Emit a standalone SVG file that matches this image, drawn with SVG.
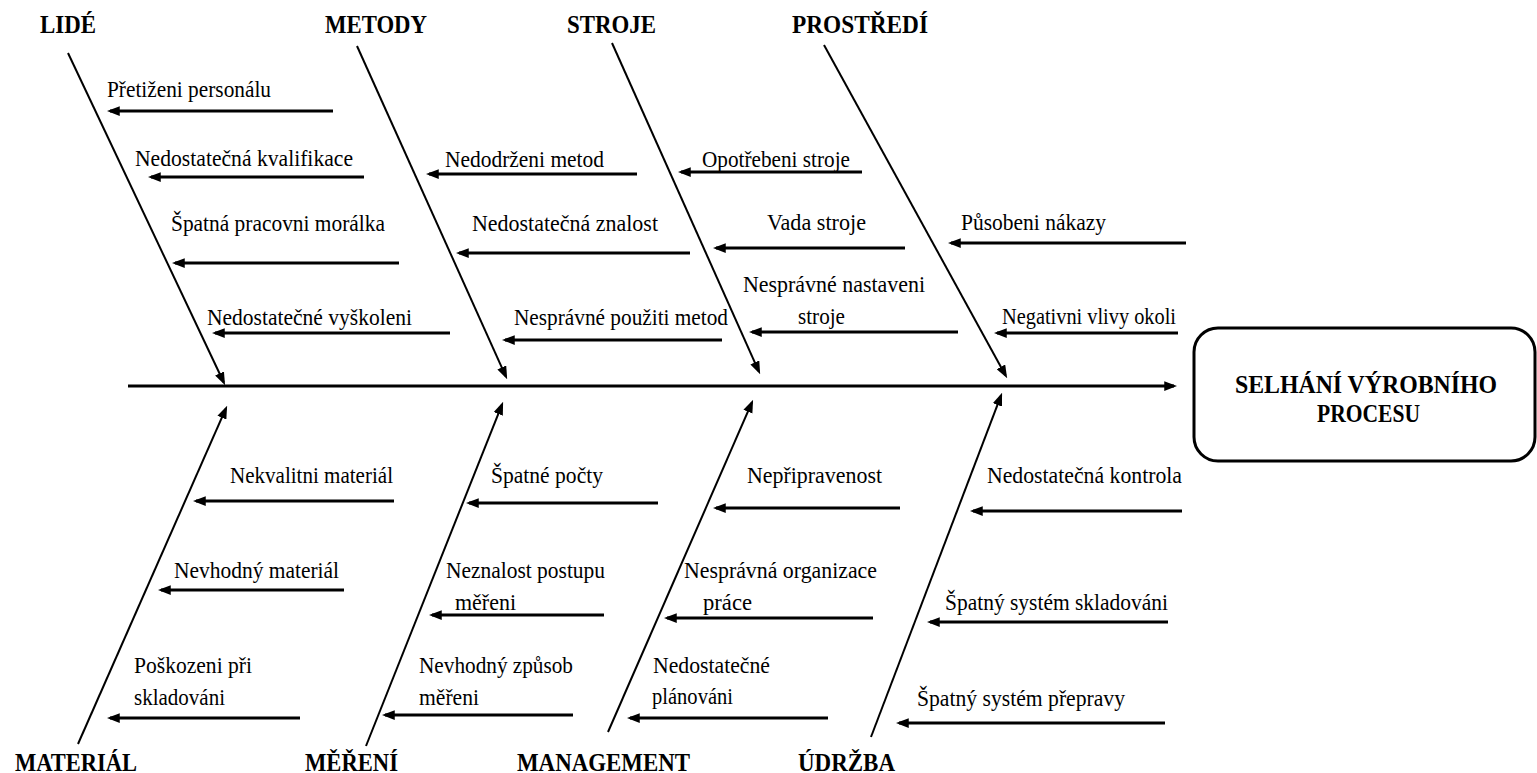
<svg xmlns="http://www.w3.org/2000/svg" width="1537" height="773" viewBox="0 0 1537 773">
<style>
.t{font-family:'Liberation Serif','DejaVu Serif','Times New Roman',serif;font-size:23px;fill:#000}
.h{font-family:'Liberation Serif','DejaVu Serif','Times New Roman',serif;font-size:25px;font-weight:bold;fill:#000}
.c{stroke:#000;stroke-width:2.8;fill:none;marker-end:url(#ah)}
.b{stroke:#000;stroke-width:2;fill:none;marker-end:url(#ah)}
</style>
<defs>
<marker id="ah" markerUnits="userSpaceOnUse" markerWidth="13" markerHeight="10" refX="9" refY="4.5" orient="auto" viewBox="0 0 12 9">
<path d="M0,0 L12,4.5 L0,9 z" fill="#000"/>
</marker>
</defs>
<rect width="1537" height="773" fill="#fff"/>
<g id="connectors">
<line class="c" x1="128" y1="386" x2="1174" y2="386"/>
<line class="b" x1="68" y1="53" x2="223.7" y2="382.3"/>
<line class="b" x1="357" y1="46" x2="505.8" y2="376.3"/>
<line class="b" x1="612" y1="43" x2="758.8" y2="371.3"/>
<line class="b" x1="824" y1="45" x2="1005.6" y2="375.4"/>
<line class="b" x1="78" y1="744" x2="225.8" y2="408.7"/>
<line class="b" x1="366" y1="746" x2="501.9" y2="404.8"/>
<line class="b" x1="608" y1="732" x2="751.8" y2="402.7"/>
<line class="b" x1="871" y1="737" x2="1000.9" y2="395.8"/>
<line class="c" x1="333" y1="111" x2="110" y2="111"/>
<line class="c" x1="364" y1="177" x2="151" y2="177"/>
<line class="c" x1="399" y1="263" x2="175" y2="263"/>
<line class="c" x1="450" y1="333" x2="215" y2="333"/>
<line class="c" x1="637" y1="174" x2="429" y2="174"/>
<line class="c" x1="690" y1="253" x2="459" y2="253"/>
<line class="c" x1="722" y1="340" x2="505" y2="340"/>
<line class="c" x1="862" y1="172" x2="681" y2="172"/>
<line class="c" x1="905" y1="248" x2="716" y2="248"/>
<line class="c" x1="958" y1="332" x2="752" y2="332"/>
<line class="c" x1="1186" y1="243" x2="951" y2="243"/>
<line class="c" x1="1178" y1="333" x2="997" y2="333"/>
<line class="c" x1="394" y1="501" x2="196" y2="501"/>
<line class="c" x1="344" y1="590" x2="161" y2="590"/>
<line class="c" x1="300" y1="718" x2="110" y2="718"/>
<line class="c" x1="658" y1="503" x2="469" y2="503"/>
<line class="c" x1="604" y1="615" x2="432" y2="615"/>
<line class="c" x1="573" y1="715" x2="385" y2="715"/>
<line class="c" x1="900" y1="508" x2="716" y2="508"/>
<line class="c" x1="873" y1="618" x2="667" y2="618"/>
<line class="c" x1="828" y1="718" x2="630" y2="718"/>
<line class="c" x1="1182" y1="511" x2="973" y2="511"/>
<line class="c" x1="1168" y1="622" x2="930" y2="622"/>
<line class="c" x1="1165" y1="723" x2="899" y2="723"/>
</g>
<g id="effect">
<rect x="1194" y="328" width="341" height="133" rx="24" ry="24" fill="none" stroke="#000" stroke-width="3"/>
<text class="h" x="1235" y="393" textLength="262" lengthAdjust="spacingAndGlyphs">SELHÁNÍ VÝROBNÍHO</text>
<text class="h" x="1317" y="422" textLength="103" lengthAdjust="spacingAndGlyphs">PROCESU</text>
</g>
<g id="cat-lide"><text class="h" x="40" y="33" textLength="56" lengthAdjust="spacingAndGlyphs">LIDÉ</text></g>
<g id="cat-metody"><text class="h" x="325" y="33" textLength="102" lengthAdjust="spacingAndGlyphs">METODY</text></g>
<g id="cat-stroje"><text class="h" x="567" y="33" textLength="89" lengthAdjust="spacingAndGlyphs">STROJE</text></g>
<g id="cat-prostredi"><text class="h" x="792" y="33" textLength="136" lengthAdjust="spacingAndGlyphs">PROSTŘEDÍ</text></g>
<g id="cat-material"><text class="h" x="15" y="771" textLength="122" lengthAdjust="spacingAndGlyphs">MATERIÁL</text></g>
<g id="cat-mereni"><text class="h" x="305" y="771" textLength="93" lengthAdjust="spacingAndGlyphs">MĚŘENÍ</text></g>
<g id="cat-management"><text class="h" x="517" y="771" textLength="173" lengthAdjust="spacingAndGlyphs">MANAGEMENT</text></g>
<g id="cat-udrzba"><text class="h" x="798" y="771" textLength="97" lengthAdjust="spacingAndGlyphs">ÚDRŽBA</text></g>
<g id="c1"><text class="t" x="107" y="97" textLength="164" lengthAdjust="spacingAndGlyphs">Přetiženi personálu</text></g>
<g id="c2"><text class="t" x="135" y="166" textLength="218" lengthAdjust="spacingAndGlyphs">Nedostatečná kvalifikace</text></g>
<g id="c3"><text class="t" x="171" y="231" textLength="214" lengthAdjust="spacingAndGlyphs">Špatná pracovni morálka</text></g>
<g id="c4"><text class="t" x="207" y="325" textLength="205" lengthAdjust="spacingAndGlyphs">Nedostatečné vyškoleni</text></g>
<g id="c5"><text class="t" x="445" y="167" textLength="159" lengthAdjust="spacingAndGlyphs">Nedodrženi metod</text></g>
<g id="c6"><text class="t" x="472" y="231" textLength="186" lengthAdjust="spacingAndGlyphs">Nedostatečná znalost</text></g>
<g id="c7"><text class="t" x="514" y="325" textLength="214" lengthAdjust="spacingAndGlyphs">Nesprávné použiti metod</text></g>
<g id="c8"><text class="t" x="702" y="167" textLength="148" lengthAdjust="spacingAndGlyphs">Opotřebeni stroje</text></g>
<g id="c9"><text class="t" x="767" y="230" textLength="99" lengthAdjust="spacingAndGlyphs">Vada stroje</text></g>
<g id="c10"><text class="t" x="743" y="292" textLength="182" lengthAdjust="spacingAndGlyphs">Nesprávné nastaveni</text><text class="t" x="798" y="324" textLength="47" lengthAdjust="spacingAndGlyphs">stroje</text></g>
<g id="c11"><text class="t" x="961" y="230" textLength="145" lengthAdjust="spacingAndGlyphs">Působeni nákazy</text></g>
<g id="c12"><text class="t" x="1002" y="324" textLength="174" lengthAdjust="spacingAndGlyphs">Negativni vlivy okoli</text></g>
<g id="c13"><text class="t" x="230" y="483" textLength="163" lengthAdjust="spacingAndGlyphs">Nekvalitni materiál</text></g>
<g id="c14"><text class="t" x="174" y="578" textLength="165" lengthAdjust="spacingAndGlyphs">Nevhodný materiál</text></g>
<g id="c15"><text class="t" x="134" y="673" textLength="118" lengthAdjust="spacingAndGlyphs">Poškozeni při</text><text class="t" x="134" y="705" textLength="91" lengthAdjust="spacingAndGlyphs">skladováni</text></g>
<g id="c16"><text class="t" x="491" y="483" textLength="112" lengthAdjust="spacingAndGlyphs">Špatné počty</text></g>
<g id="c17"><text class="t" x="446" y="578" textLength="159" lengthAdjust="spacingAndGlyphs">Neznalost postupu</text><text class="t" x="455" y="610" textLength="61" lengthAdjust="spacingAndGlyphs">měřeni</text></g>
<g id="c18"><text class="t" x="419" y="673" textLength="154" lengthAdjust="spacingAndGlyphs">Nevhodný způsob</text><text class="t" x="419" y="705" textLength="60" lengthAdjust="spacingAndGlyphs">měřeni</text></g>
<g id="c19"><text class="t" x="747" y="483" textLength="135" lengthAdjust="spacingAndGlyphs">Nepřipravenost</text></g>
<g id="c20"><text class="t" x="684" y="578" textLength="193" lengthAdjust="spacingAndGlyphs">Nesprávná organizace</text><text class="t" x="703" y="610" textLength="49" lengthAdjust="spacingAndGlyphs">práce</text></g>
<g id="c21"><text class="t" x="653" y="673" textLength="117" lengthAdjust="spacingAndGlyphs">Nedostatečné</text><text class="t" x="652" y="704" textLength="81" lengthAdjust="spacingAndGlyphs">plánováni</text></g>
<g id="c22"><text class="t" x="987" y="483" textLength="195" lengthAdjust="spacingAndGlyphs">Nedostatečná kontrola</text></g>
<g id="c23"><text class="t" x="945" y="610" textLength="223" lengthAdjust="spacingAndGlyphs">Špatný systém skladováni</text></g>
<g id="c24"><text class="t" x="917" y="706" textLength="208" lengthAdjust="spacingAndGlyphs">Špatný systém přepravy</text></g>
</svg>
